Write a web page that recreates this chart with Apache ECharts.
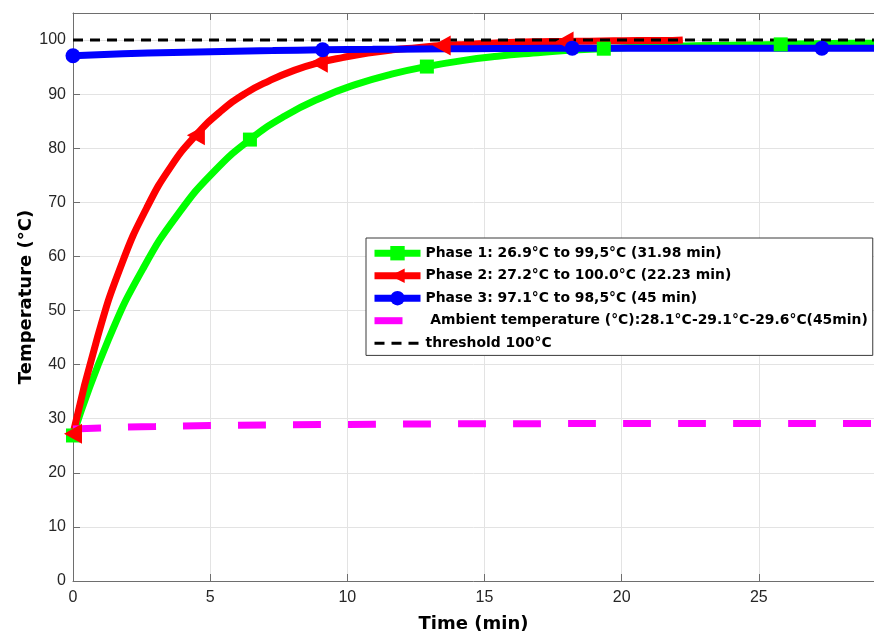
<!DOCTYPE html>
<html><head><meta charset="utf-8">
<script src="https://cdn.jsdelivr.net/npm/echarts@6/dist/echarts.min.js"></script>
<style>html,body{margin:0;padding:0;background:#fff}#c{width:874px;height:634px}</style>
</head><body><div id="c"></div>
<script>
// ---- data ----
const names = [
  'Phase 1: 26.9°C to 99,5°C (31.98 min)',
  'Phase 2: 27.2°C to 100.0°C (22.23 min)',
  'Phase 3: 97.1°C to 98,5°C (45 min)',
  ' Ambient temperature (°C):28.1°C-29.1°C-29.6°C(45min)',
  'threshold 100°C'
];
const phase1Time = [0,1.29,2.58,3.87,5.16,6.45,7.74,9.03,10.32,11.61,12.9,14.19,15.48,16.77,18.06,19.35,20.64,21.93,23.22,24.51,25.8,27.09,28.38,29.67,30.96];
const phase1Temp = [26.9,44.6,58.0,68.1,75.8,81.6,86.0,89.3,91.8,93.7,95.1,96.2,97.0,97.6,98.1,98.4,98.7,98.9,99.0,99.1,99.2,99.3,99.4,99.4,99.5];
const phase1Markers = [0,5,10,15,20];

const phase2Time = [0,0.9,1.79,2.69,3.58,4.48,5.38,6.27,7.17,8.06,8.96,9.86,10.75,11.65,12.54,13.44,14.34,15.23,16.13,17.02,17.92,18.82,19.71,20.61,21.5,22.23];
const phase2Temp = [27.2,45.2,58.8,69.0,76.7,82.4,86.8,90.1,92.5,94.4,95.8,96.8,97.6,98.2,98.6,99.0,99.2,99.4,99.6,99.7,99.75,99.8,99.85,99.9,99.9,100.0];
const phase2Markers = [0,5,10,15,20];

const phase3Time = [0,1.82,3.64,5.46,7.28,9.1,10.92,12.74,14.56,16.38,18.2,20.02,21.84,23.66,25.48,27.3,29.12,30.94];
const phase3Temp = [97.1,97.45,97.7,97.9,98.05,98.2,98.28,98.35,98.4,98.45,98.5,98.5,98.5,98.5,98.5,98.5,98.5,98.5];
const phase3Markers = [0,5,10,15];

const ambientTime = [0,1,2,3,4,6,8,10,12,14,16,18,20,22,24,26,28,30];
const ambientTemp = [28.1,28.3,28.45,28.55,28.65,28.8,28.9,28.95,29.0,29.05,29.05,29.1,29.1,29.1,29.1,29.1,29.1,29.1];

const thresholdTime = [0,30];
const thresholdTemp = [100,100];

const xTicks = [0,5,10,15,20,25];
const yTicks = [0,10,20,30,40,50,60,70,80,90,100];

// ---- chart ----
const pairs = (xs, ys) => xs.map((x, i) => [x, ys[i]]);
const sizeFor = (marks, s) => (v, p) => marks.indexOf(p.dataIndex) >= 0 ? s : 0;
const axisColor = '#6e6e6e';
const labelFont = {fontFamily: 'Liberation Sans, Arial, sans-serif', fontSize: 16, color: '#262626'};
const titleFont = {fontFamily: 'DejaVu Sans', fontWeight: 'bold', fontSize: 18, color: '#000'};

const chart = echarts.init(document.getElementById('c'), null, {renderer: 'canvas'});
chart.setOption({
  animation: false,
  backgroundColor: '#ffffff',
  grid: {left: 73, top: 13, right: 0, bottom: 53, containLabel: false, outerBoundsMode: 'none'},
  legend: {
    orient: 'vertical', left: 366, top: 238,
    padding: [8, 5, 5, 5], itemGap: 8.1, itemWidth: 46, itemHeight: 18,
    backgroundColor: '#ffffff', borderColor: '#3a3a3a', borderWidth: 1,
    textStyle: {fontFamily: 'DejaVu Sans', fontWeight: 'bold', fontSize: 13.9, color: '#000'},
    lineStyle: {width: 7},
    data: [
      {name: names[0]}, {name: names[1]}, {name: names[2]},
      {name: names[3], itemStyle: {opacity: 0}},
      {name: names[4], itemStyle: {opacity: 0}, lineStyle: {width: 3}}
    ]
  },
  xAxis: [{
    type: 'value', min: 0, max: 29.2, interval: 5, position: 'bottom',
    name: 'Time (min)', nameLocation: 'middle', nameGap: 34, nameMoveOverlap: false,
    nameTextStyle: titleFont,
    axisLine: {show: true, onZero: false, lineStyle: {color: axisColor, width: 1}},
    axisTick: {show: true, inside: true, length: 7, lineStyle: {color: axisColor}},
    axisLabel: Object.assign({margin: 9, showMaxLabel: false,
      formatter: v => xTicks.indexOf(v) >= 0 ? String(v) : ''}, labelFont),
    splitLine: {show: true, lineStyle: {color: '#e3e3e3', width: 1}}
  }, {
    type: 'value', min: 0, max: 29.2, interval: 5, position: 'top',
    axisLine: {show: true, onZero: false, lineStyle: {color: axisColor, width: 1}},
    axisTick: {show: true, inside: true, length: 7, lineStyle: {color: axisColor}},
    axisLabel: {show: false}, splitLine: {show: false}
  }],
  yAxis: {
    type: 'value', min: 0, max: 105, interval: 10,
    name: 'Temperature (°C)', nameLocation: 'middle', nameGap: 38, nameMoveOverlap: false,
    nameTextStyle: titleFont,
    axisLine: {show: true, onZero: false, lineStyle: {color: axisColor, width: 1}},
    axisTick: {show: true, inside: true, length: 7, lineStyle: {color: axisColor}},
    axisLabel: Object.assign({margin: 7, showMaxLabel: false,
      formatter: v => yTicks.indexOf(v) >= 0 ? String(v) : ''}, labelFont),
    splitLine: {show: true, lineStyle: {color: '#e3e3e3', width: 1}}
  },
  series: [{
    name: names[0], type: 'line', data: pairs(phase1Time, phase1Temp), smooth: true, clip: false,
    symbol: 'rect', symbolSize: sizeFor(phase1Markers, 14), showSymbol: true,
    lineStyle: {color: '#00ff00', width: 7}, itemStyle: {color: '#00ff00'}
  }, {
    name: names[1], type: 'line', data: pairs(phase2Time, phase2Temp), smooth: true, clip: false,
    symbol: 'triangle', symbolRotate: 90, symbolSize: sizeFor(phase2Markers, [20, 18]), showSymbol: true,
    lineStyle: {color: '#ff0000', width: 7}, itemStyle: {color: '#ff0000'}
  }, {
    name: names[2], type: 'line', data: pairs(phase3Time, phase3Temp), smooth: true, clip: false,
    symbol: 'circle', symbolSize: sizeFor(phase3Markers, 15), showSymbol: true,
    lineStyle: {color: '#0000ff', width: 7}, itemStyle: {color: '#0000ff'}
  }, {
    name: names[3], type: 'line', data: pairs(ambientTime, ambientTemp), smooth: true, clip: false,
    symbol: 'none',
    lineStyle: {color: '#ff00ff', width: 7, type: [28, 27]}, itemStyle: {color: '#ff00ff'}
  }, {
    name: names[4], type: 'line', data: pairs(thresholdTime, thresholdTemp), clip: false,
    symbol: 'none',
    lineStyle: {color: '#000000', width: 3, type: [10, 7]}, itemStyle: {color: '#000000'}
  }]
});
</script>
</body></html>
